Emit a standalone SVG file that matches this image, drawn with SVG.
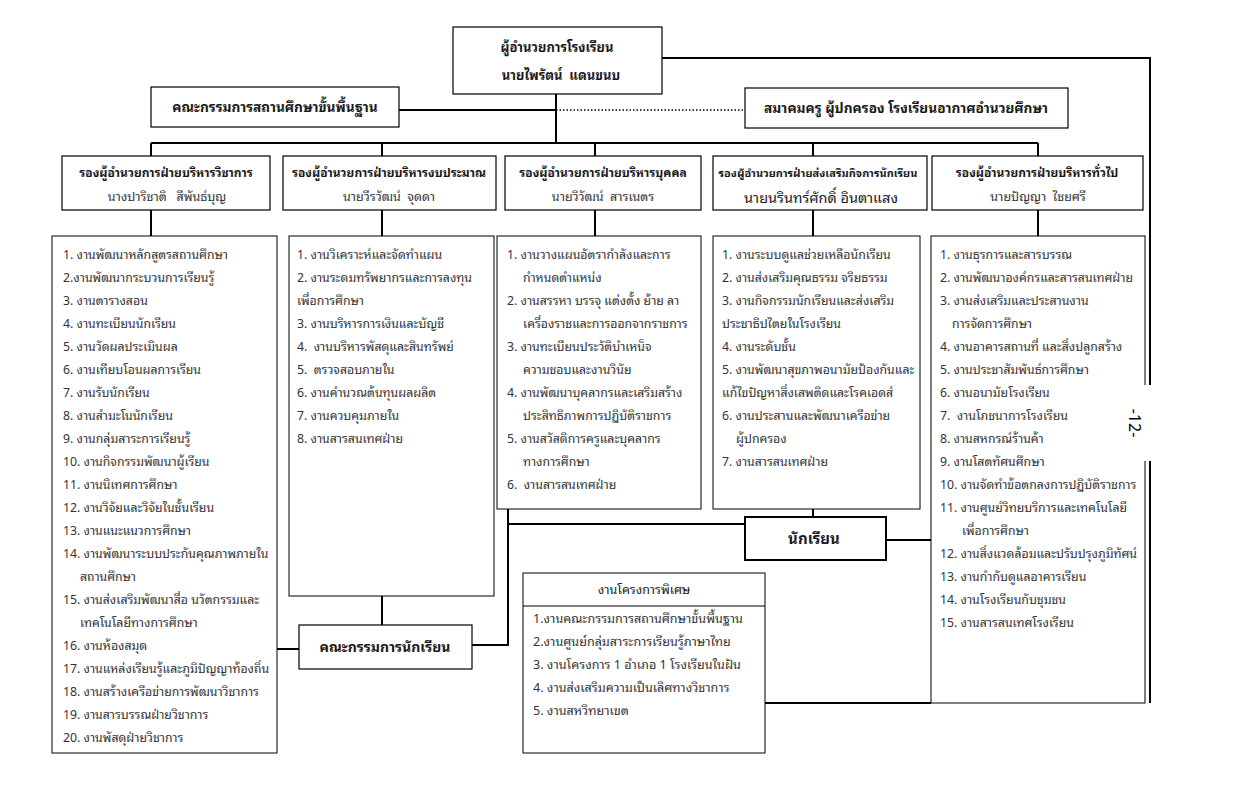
<svg xmlns="http://www.w3.org/2000/svg" width="1233" height="810" viewBox="0 0 1233 810">
<style>
text{font-family:Tahoma,"Noto Sans Thai Looped","Loma","Garuda","Waree","Noto Sans Thai","Noto Sans","DejaVu Sans",sans-serif;fill:#1a1a1a;white-space:pre}
.box{fill:#fff;stroke:#000;stroke-width:1.2}
.lst{fill:#fff;stroke:#000;stroke-width:1}
.bx2{fill:#fff;stroke:#000;stroke-width:2}
.c{text-anchor:middle}
.t{font-size:12px;font-weight:bold}
.n{font-size:12.5px;fill:#333}
.li{font-size:12.3px;fill:#333}
.sp{font-size:12.6px;fill:#333}
.h{font-size:13px;font-weight:bold}
.h2{font-size:13.7px;font-weight:bold}
.big{font-size:14px;font-weight:bold}
.con{fill:none;stroke:#000;stroke-width:2}
</style>
<rect width="1233" height="810" fill="#fff"/>
<g id="connectors">
<path class="con" d="M662 58H1150V703"/>
<path class="con" d="M399 110H556"/>
<path d="M556 110H745" fill="none" stroke="#000" stroke-width="1.5" stroke-dasharray="1.5 2"/>
<path class="con" d="M556 94V143"/>
<path class="con" d="M151 143H1038"/>
<path class="con" d="M151 143V156M382 143V156M595 143V156M813 143V156M1038 143V156"/>
<path class="con" d="M151 210V236M382 210V236M595 210V236M813 210V236M1038 210V236"/>
<path class="con" d="M382 596V625"/>
<path class="con" d="M277 649H299"/>
<path class="con" d="M472 645H508V509"/>
<path class="con" d="M508 524H745"/>
<path class="con" d="M813 509V517"/>
<path class="con" d="M886 540H931"/>
<path class="con" d="M765 703H931"/>
</g>
<g id="director">
<rect class="box" x="453" y="27" width="209" height="67"/>
<text class="c h" x="557" y="52">ผู้อำนวยการโรงเรียน</text>
<text class="c h" x="561" y="80">นายไพรัตน์  แดนขนบ</text>
</g>
<g id="basic-committee">
<rect class="box" x="151" y="87" width="248" height="40"/>
<text class="c h2" x="275" y="112">คณะกรรมการสถานศึกษาขั้นพื้นฐาน</text>
</g>
<g id="association">
<rect class="box" x="745" y="88" width="323" height="40"/>
<text class="c h2" x="906" y="113">สมาคมครู ผู้ปกครอง โรงเรียนอากาศอำนวยศึกษา</text>
</g>
<g id="deputy-academic">
<rect class="box" x="62" y="156" width="208" height="54"/>
<text class="c t" x="166" y="177">รองผู้อำนวยการฝ่ายบริหารวิชาการ</text>
<text class="c n" x="167" y="201">นางปาริชาติ   สีพันธ์บุญ</text>
</g>
<g id="deputy-budget">
<rect class="box" x="283" y="156" width="213" height="54"/>
<text class="c t" x="389" y="177">รองผู้อำนวยการฝ่ายบริหารงบประมาณ</text>
<text class="c n" x="389" y="201">นายวีรวัฒน์  จุดดา</text>
</g>
<g id="deputy-personnel">
<rect class="box" x="505" y="156" width="196" height="54"/>
<text class="c t" x="603" y="177">รองผู้อำนวยการฝ่ายบริหารบุคคล</text>
<text class="c n" x="603" y="201">นายวิวัฒน์  สารเนตร</text>
</g>
<g id="deputy-student">
<rect class="box" x="713" y="156" width="214" height="54"/>
<text class="c" x="818" y="177" style="font-size:11px;font-weight:bold">รองผู้อำนวยการฝ่ายส่งเสริมกิจการนักเรียน</text>
<text class="c" x="821" y="203" style="font-size:14.5px">นายนรินทร์ศักดิ์ อินตาแสง</text>
</g>
<g id="deputy-general">
<rect class="box" x="932" y="156" width="211" height="54"/>
<text class="c t" x="1037" y="177">รองผู้อำนวยการฝ่ายบริหารทั่วไป</text>
<text class="c n" x="1038" y="201">นายปัญญา  ไชยศรี</text>
</g>
<g id="list-academic">
<rect class="lst" x="52" y="236" width="225" height="517"/>
<text class="li" x="63" y="259">1. งานพัฒนาหลักสูตรสถานศึกษา</text>
<text class="li" x="63" y="282">2.งานพัฒนากระบวนการเรียนรู้</text>
<text class="li" x="63" y="305">3. งานตารางสอน</text>
<text class="li" x="63" y="328">4. งานทะเบียนนักเรียน</text>
<text class="li" x="63" y="351">5. งานวัดผลประเมินผล</text>
<text class="li" x="63" y="374">6. งานเทียบโอนผลการเรียน</text>
<text class="li" x="63" y="397">7. งานรับนักเรียน</text>
<text class="li" x="63" y="420">8. งานสำมะโนนักเรียน</text>
<text class="li" x="63" y="443">9. งานกลุ่มสาระการเรียนรู้</text>
<text class="li" x="63" y="466">10. งานกิจกรรมพัฒนาผู้เรียน</text>
<text class="li" x="63" y="489">11. งานนิเทศการศึกษา</text>
<text class="li" x="63" y="512">12. งานวิจัยและวิจัยในชั้นเรียน</text>
<text class="li" x="63" y="535">13. งานแนะแนวการศึกษา</text>
<text class="li" x="63" y="558">14. งานพัฒนาระบบประกันคุณภาพภายใน</text>
<text class="li" x="80" y="581">สถานศึกษา</text>
<text class="li" x="63" y="604">15. งานส่งเสริมพัฒนาสื่อ นวัตกรรมและ</text>
<text class="li" x="80" y="627">เทคโนโลยีทางการศึกษา</text>
<text class="li" x="63" y="650">16. งานห้องสมุด</text>
<text class="li" x="63" y="673">17. งานแหล่งเรียนรู้และภูมิปัญญาท้องถิ่น</text>
<text class="li" x="63" y="696">18. งานสร้างเครือข่ายการพัฒนาวิชาการ</text>
<text class="li" x="63" y="719">19. งานสารบรรณฝ่ายวิชาการ</text>
<text class="li" x="63" y="742">20. งานพัสดุฝ่ายวิชาการ</text>
</g>
<g id="list-budget">
<rect class="lst" x="289" y="236" width="205" height="360"/>
<text class="li" x="297" y="259">1. งานวิเคราะห์และจัดทำแผน</text>
<text class="li" x="297" y="282">2. งานระดมทรัพยากรและการลงทุน</text>
<text class="li" x="297" y="305">เพื่อการศึกษา</text>
<text class="li" x="297" y="328">3. งานบริหารการเงินและบัญชี</text>
<text class="li" x="297" y="351">4.  งานบริหารพัสดุและสินทรัพย์</text>
<text class="li" x="297" y="374">5.  ตรวจสอบภายใน</text>
<text class="li" x="297" y="397">6. งานคำนวณต้นทุนผลผลิต</text>
<text class="li" x="297" y="420">7. งานควบคุมภายใน</text>
<text class="li" x="297" y="443">8. งานสารสนเทศฝ่าย</text>
</g>
<g id="list-personnel">
<rect class="lst" x="497" y="236" width="204" height="273"/>
<text class="li" x="507" y="259">1. งานวางแผนอัตรากำลังและการ</text>
<text class="li" x="523" y="282">กำหนดตำแหน่ง</text>
<text class="li" x="507" y="305">2. งานสรรหา บรรจุ แต่งตั้ง ย้าย ลา</text>
<text class="li" x="523" y="328">เครื่องราชและการออกจากราชการ</text>
<text class="li" x="507" y="351">3. งานทะเบียนประวัติบำเหน็จ</text>
<text class="li" x="523" y="374">ความชอบและงานวินัย</text>
<text class="li" x="507" y="397">4. งานพัฒนาบุคลากรและเสริมสร้าง</text>
<text class="li" x="523" y="420">ประสิทธิภาพการปฏิบัติราชการ</text>
<text class="li" x="507" y="443">5. งานสวัสดิการครูและบุคลากร</text>
<text class="li" x="523" y="466">ทางการศึกษา</text>
<text class="li" x="507" y="489">6.  งานสารสนเทศฝ่าย</text>
</g>
<g id="list-student">
<rect class="lst" x="713" y="236" width="207" height="273"/>
<text class="li" x="722" y="259">1. งานระบบดูแลช่วยเหลือนักเรียน</text>
<text class="li" x="722" y="282">2. งานส่งเสริมคุณธรรม จริยธรรม</text>
<text class="li" x="722" y="305">3. งานกิจกรรมนักเรียนและส่งเสริม</text>
<text class="li" x="722" y="328">ประชาธิปไตยในโรงเรียน</text>
<text class="li" x="722" y="351">4. งานระดับชั้น</text>
<text class="li" x="722" y="374">5. งานพัฒนาสุขภาพอนามัยป้องกันและ</text>
<text class="li" x="722" y="397">แก้ไขปัญหาสิ่งเสพติดและโรคเอดส์</text>
<text class="li" x="722" y="420">6. งานประสานและพัฒนาเครือข่าย</text>
<text class="li" x="736" y="443">ผู้ปกครอง</text>
<text class="li" x="722" y="466">7. งานสารสนเทศฝ่าย</text>
</g>
<g id="list-general">
<rect class="lst" x="931" y="236" width="214" height="467"/>
<text class="li" x="940" y="259">1. งานธุรการและสารบรรณ</text>
<text class="li" x="940" y="282">2. งานพัฒนาองค์กรและสารสนเทศฝ่าย</text>
<text class="li" x="940" y="305">3. งานส่งเสริมและประสานงาน</text>
<text class="li" x="952" y="328">การจัดการศึกษา</text>
<text class="li" x="940" y="351">4. งานอาคารสถานที่ และสิ่งปลูกสร้าง</text>
<text class="li" x="940" y="374">5. งานประชาสัมพันธ์การศึกษา</text>
<text class="li" x="940" y="397">6. งานอนามัยโรงเรียน</text>
<text class="li" x="940" y="420">7.  งานโภชนาการโรงเรียน</text>
<text class="li" x="940" y="443">8. งานสหกรณ์ร้านค้า</text>
<text class="li" x="940" y="466">9. งานโสตทัศนศึกษา</text>
<text class="li" x="940" y="489">10. งานจัดทำข้อตกลงการปฏิบัติราชการ</text>
<text class="li" x="940" y="512">11. งานศูนย์วิทยบริการและเทคโนโลยี</text>
<text class="li" x="962" y="535">เพื่อการศึกษา</text>
<text class="li" x="940" y="558">12. งานสิ่งแวดล้อมและปรับปรุงภูมิทัศน์</text>
<text class="li" x="940" y="581">13. งานกำกับดูแลอาคารเรียน</text>
<text class="li" x="940" y="604">14. งานโรงเรียนกับชุมชน</text>
<text class="li" x="940" y="627">15. งานสารสนเทศโรงเรียน</text>
</g>
<g id="students">
<rect class="bx2" x="745" y="517" width="141" height="43"/>
<text class="c" x="814" y="544" style="font-size:15px;font-weight:bold">นักเรียน</text>
</g>
<g id="student-council">
<rect class="box" x="299" y="625" width="173" height="44"/>
<text class="c big" x="385" y="652">คณะกรรมการนักเรียน</text>
</g>
<g id="special-projects">
<rect class="lst" x="523" y="573" width="242" height="180"/>
<line x1="523" y1="606" x2="765" y2="606" stroke="#000" stroke-width="1"/>
<text class="c" x="644" y="594" style="font-size:12.5px">งานโครงการพิเศษ</text>
<text class="sp" x="533" y="623">1.งานคณะกรรมการสถานศึกษาขั้นพื้นฐาน</text>
<text class="sp" x="533" y="646">2.งานศูนย์กลุ่มสาระการเรียนรู้ภาษาไทย</text>
<text class="sp" x="533" y="669">3. งานโครงการ 1 อำเภอ 1 โรงเรียนในฝัน</text>
<text class="sp" x="533" y="692">4. งานส่งเสริมความเป็นเลิศทางวิชาการ</text>
<text class="sp" x="533" y="715">5. งานสหวิทยาเขต</text>
</g>
<g id="page-number">
<rect x="1126" y="385" width="32" height="76" fill="#fff"/>
<text class="c" x="1134" y="423" transform="rotate(90 1134 423)" style="font-size:16px;fill:#000" dy="5">-12-</text>
</g>
</svg>
